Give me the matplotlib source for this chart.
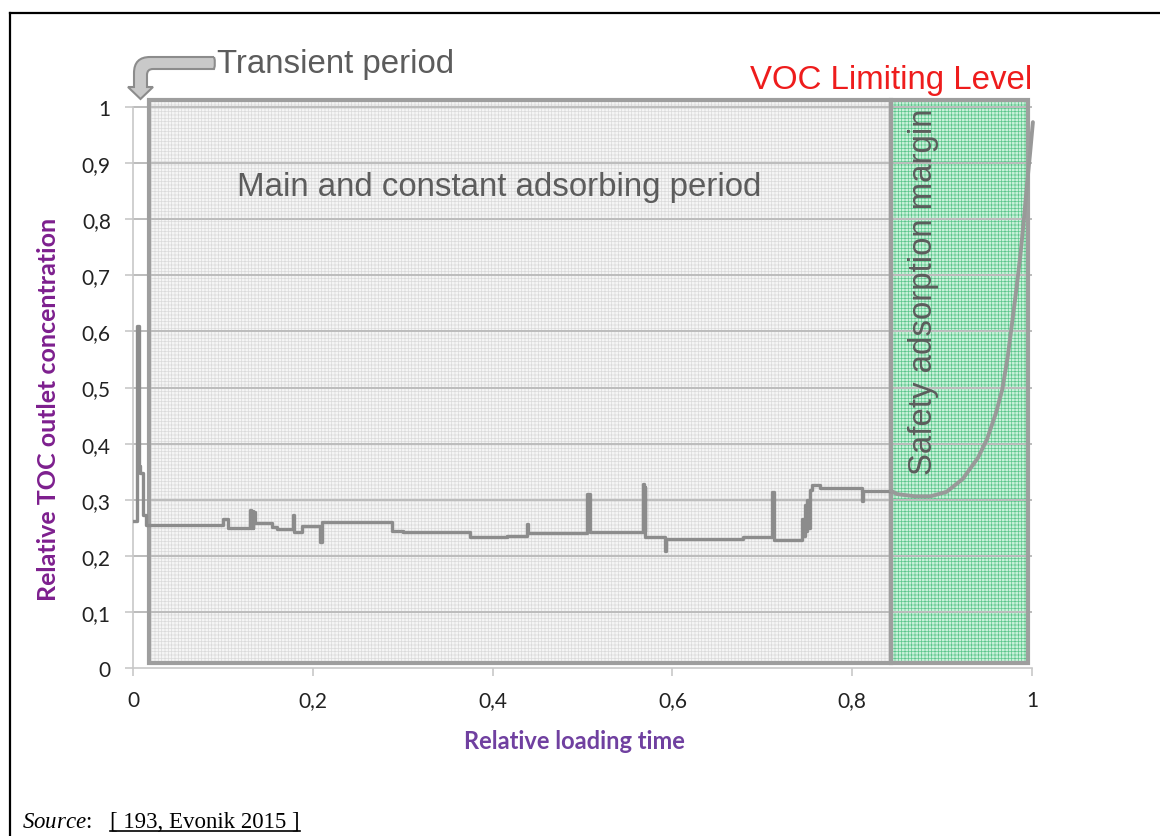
import matplotlib
matplotlib.use('Agg')
import matplotlib.pyplot as plt
import numpy as np
from matplotlib.patches import Rectangle, PathPatch
from matplotlib.path import Path
from matplotlib.lines import Line2D
import matplotlib.transforms as mtransforms

# measured TOC outlet concentration (step readings up to the end of the main period)
step_x = [0.000, 0.0045, 0.0067, 0.0078, 0.010, 0.011, 0.0145,
          0.100, 0.106, 0.130, 0.131, 0.132, 0.133, 0.134, 0.136,
          0.155, 0.160, 0.178, 0.179, 0.188, 0.208, 0.210,
          0.288, 0.300, 0.375, 0.416, 0.438, 0.439,
          0.505, 0.508, 0.567, 0.568, 0.569, 0.570,
          0.592, 0.593, 0.679, 0.711, 0.713,
          0.744, 0.746, 0.747, 0.749, 0.750, 0.752, 0.753, 0.755,
          0.764, 0.811, 0.812, 0.843]
step_y = [0.262, 0.610, 0.360, 0.348, 0.348, 0.272, 0.255,
          0.266, 0.249, 0.282, 0.250, 0.280, 0.250, 0.278, 0.259,
          0.252, 0.247, 0.273, 0.243, 0.254, 0.225, 0.260,
          0.245, 0.242, 0.233, 0.235, 0.257, 0.241,
          0.311, 0.242, 0.328, 0.245, 0.322, 0.233,
          0.208, 0.230, 0.233, 0.313, 0.229,
          0.265, 0.235, 0.290, 0.245, 0.300, 0.250, 0.318, 0.326,
          0.321, 0.297, 0.316, 0.316]

# breakthrough curve inside the safety margin
bt_x = [0.843, 0.850, 0.870, 0.887, 0.905, 0.923, 0.940, 0.950, 0.960,
        0.967, 0.973, 0.978, 0.983, 0.987, 0.991, 0.994, 0.998, 1.001]
bt_y = [0.316, 0.310, 0.306, 0.306, 0.314, 0.337, 0.375, 0.408, 0.455,
        0.497, 0.555, 0.617, 0.680, 0.735, 0.800, 0.854, 0.920, 0.973]

# period boundaries
transient_end = 0.018
margin_start = 0.843
margin_end = 0.996

y_ticks = [0, 0.1, 0.2, 0.3, 0.4, 0.5, 0.6, 0.7, 0.8, 0.9, 1.0]
x_ticks = [0, 0.2, 0.4, 0.6, 0.8, 1.0]

def comma(v):
    s = ('%.1f' % v).rstrip('0').rstrip('.')
    return s.replace('.', ',')

W, H = 1160, 837
plt.rcParams['hatch.linewidth'] = 0.5
plt.rcParams['mathtext.fontset'] = 'custom'
plt.rcParams['mathtext.rm'] = 'Liberation Serif'
plt.rcParams['mathtext.it'] = 'Liberation Serif:italic'
fig = plt.figure(figsize=(W / 100, H / 100), dpi=100)
ax = fig.add_axes([133 / W, 1 - 669 / H, 899 / W, 561 / H])
ax.set_xlim(0, 1)
ax.set_ylim(0, 1)

# hatched period regions (fine millimetre-paper grid)
ax.add_patch(Rectangle((transient_end, 0.009), margin_start - transient_end, 1.0035,
                       facecolor='#f5f5f5', edgecolor='#dadada', hatch='+++++',
                       linewidth=0, zorder=1, clip_on=False))
ax.add_patch(Rectangle((margin_start, 0.009), margin_end - margin_start, 1.0035,
                       facecolor='#c9f1da', edgecolor='#5cc68c', hatch='+++++',
                       linewidth=0, zorder=1, clip_on=False))

# major gridlines
ax.hlines(y_ticks[1:], 0, 1, colors='#bcbcbc', linewidth=1.4, zorder=1.5, clip_on=False)

# region frames
for x0, x1 in [(transient_end, margin_start), (margin_start, margin_end)]:
    ax.add_patch(Rectangle((x0, 0.009), x1 - x0, 1.0035, facecolor='none',
                           edgecolor='#9e9e9e', linewidth=3, zorder=2, clip_on=False))

ax.step(step_x, step_y, where='post', color='#8c8c8c', linewidth=2.4, zorder=3)
ax.plot(bt_x, bt_y, color='#999999', linewidth=2.8, zorder=3, clip_on=False,
        solid_capstyle='round')

# axes styling
for side in ['top', 'right']:
    ax.spines[side].set_visible(False)
for side in ['left', 'bottom']:
    ax.spines[side].set_color('#c8c8c8')
    ax.spines[side].set_linewidth(1.2)
ax.set_yticks(y_ticks)
ax.set_yticklabels([comma(v) for v in y_ticks])
ax.set_xticks(x_ticks)
ax.set_xticklabels([comma(v) for v in x_ticks])
ax.tick_params(axis='both', colors='#c8c8c8', labelcolor='#222222', length=6,
               width=1.2, pad=10, labelsize=15)
for lab in ax.get_xticklabels() + ax.get_yticklabels():
    lab.set_family('Lato')
ax.patch.set_alpha(0)

ax.set_ylabel('Relative TOC outlet concentration', fontsize=18, fontweight='bold',
              color='#7d1f8e', family='Lato', va='center')
ax.yaxis.set_label_coords(-0.0945, 0.462)
ax.set_xlabel('Relative loading time', fontsize=17, fontweight='bold',
              color='#7040a0', family='Lato', va='center')
ax.xaxis.set_label_coords(0.4905, -0.130)

# annotations
ax.text(0.116, 0.859, 'Main and constant adsorbing period', fontsize=23.8,
        color='#5c5c5c', family='Liberation Sans', ha='left', va='center')
ax.text(0.879, 0.672, 'Safety adsorption margin', fontsize=23.8, rotation=90,
        color='#5c5c5c', family='Liberation Sans', ha='center', va='center')
fig.text(1032 / W, 1 - 80 / H, 'VOC Limiting Level', fontsize=23.8, color='#ee1c1c',
         family='Liberation Sans', ha='right', va='center')
fig.text(217 / W, 1 - 65 / H, 'Transient period', fontsize=23.8, color='#5c5c5c',
         family='Liberation Sans', ha='left', va='center')

# bent arrow pointing down into the transient period
px = mtransforms.Affine2D().scale(1 / W, -1 / H).translate(0, 1) + fig.transFigure
verts = [(214, 58), (150, 58), (134, 58), (134, 74), (134, 88), (128, 88),
         (140.5, 100), (153, 88), (147, 88), (147, 76), (147, 70), (153, 70),
         (214, 70), (216, 64), (214, 58)]
codes = [Path.MOVETO, Path.LINETO, Path.CURVE3, Path.CURVE3, Path.LINETO, Path.LINETO,
         Path.LINETO, Path.LINETO, Path.LINETO, Path.LINETO, Path.CURVE3, Path.CURVE3,
         Path.LINETO, Path.CURVE3, Path.CURVE3]
fig.patches.append(PathPatch(Path(verts, codes), facecolor='#c9c9c9', edgecolor='#8c8c8c',
                             linewidth=1.5, transform=px, figure=fig))

# page frame
fig.add_artist(Line2D([10 / W, 1], [1 - 14 / H, 1 - 14 / H], color='black', linewidth=1.6))
fig.add_artist(Line2D([10 / W, 10 / W], [1 - 14 / H, 0], color='black', linewidth=1.6))

# source line
fig.text(22 / W, 1 - 828 / H, r'$\mathit{Source}$:', fontsize=16.5,
         family='Liberation Serif', va='baseline')
src = fig.text(110 / W, 1 - 828 / H, '[ 193, Evonik 2015 ]', fontsize=16.5,
               family='Liberation Serif', va='baseline')
fig.canvas.draw()
bb = src.get_window_extent()
fig.add_artist(Line2D([bb.x0 / W, bb.x1 / W], [1 - 832 / H, 1 - 832 / H],
                      color='black', linewidth=1.2))

fig.savefig('out.png', dpi=100)
